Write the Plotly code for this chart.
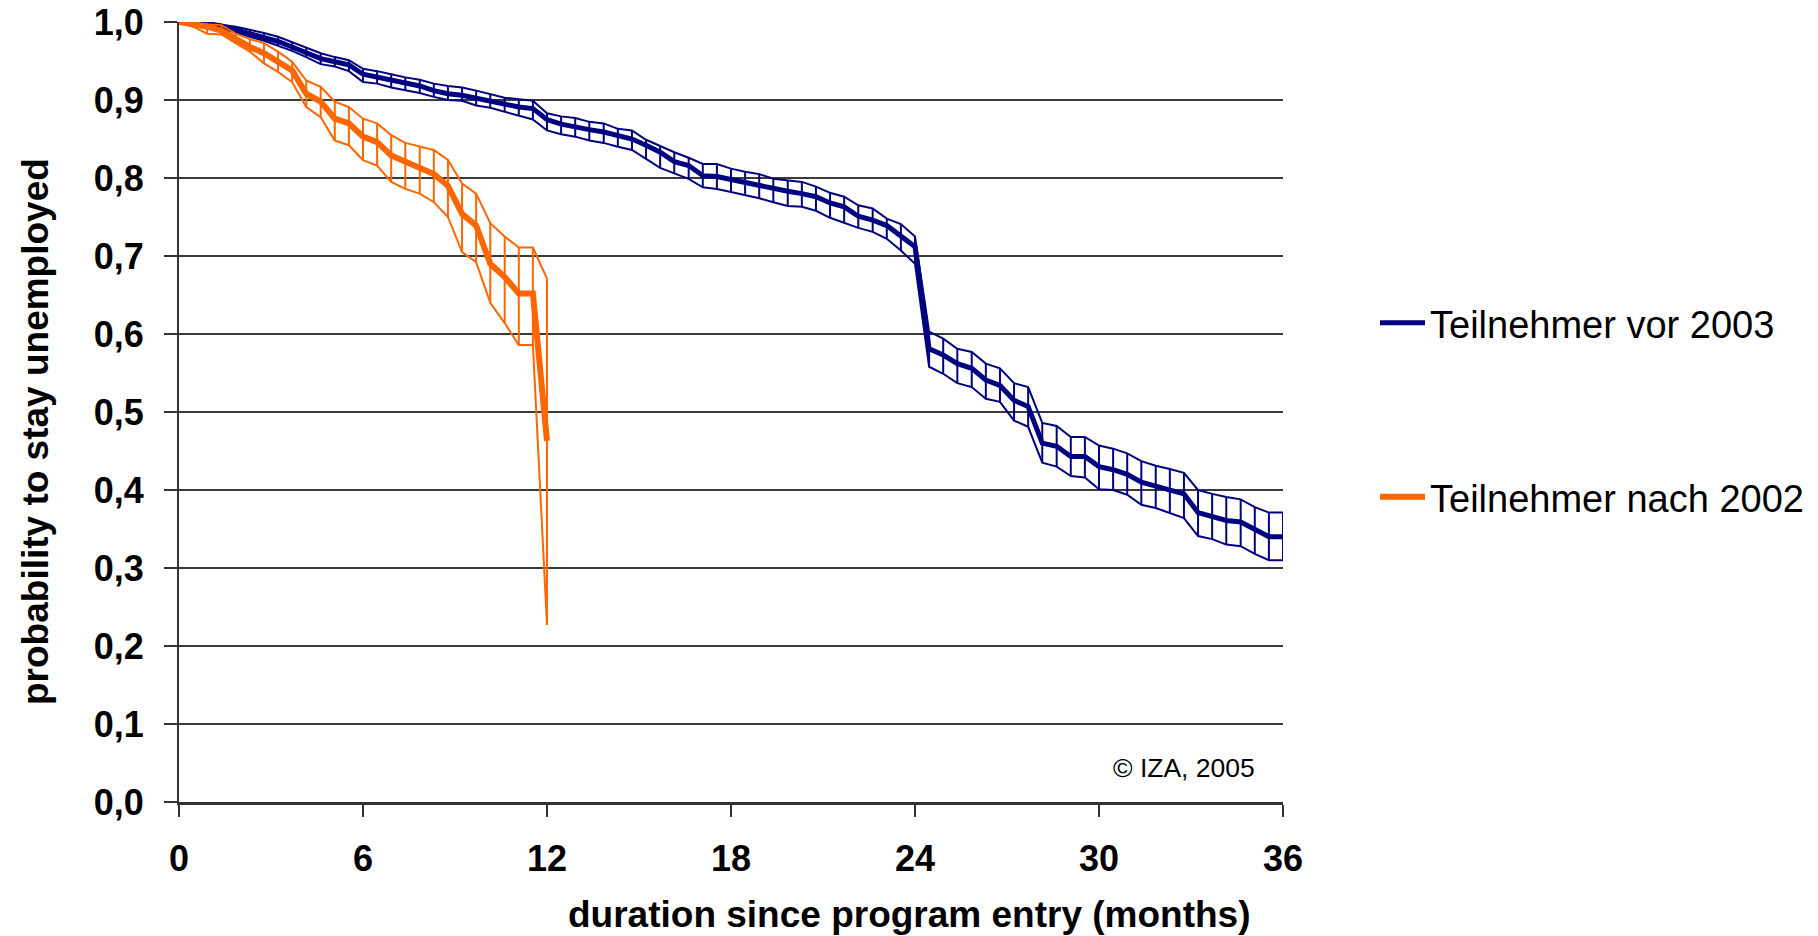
import plotly.graph_objects as go

# ---------------- data ----------------
months = [0.00, 0.46, 0.92, 1.38, 1.85, 2.31, 2.77, 3.23, 3.69, 4.15,
          4.62, 5.08, 5.54, 6.00, 6.46, 6.92, 7.38, 7.85, 8.31, 8.77,
          9.23, 9.69, 10.15, 10.62, 11.08, 11.54, 12.00, 12.46, 12.92, 13.38,
          13.85, 14.31, 14.77, 15.23, 15.69, 16.15, 16.62, 17.08, 17.54, 18.00,
          18.46, 18.92, 19.38, 19.85, 20.31, 20.77, 21.23, 21.69, 22.15, 22.62,
          23.08, 23.54, 24.00, 24.46, 24.92, 25.38, 25.85, 26.31, 26.77, 27.23,
          27.69, 28.15, 28.62, 29.08, 29.54, 30.00, 30.46, 30.92, 31.38, 31.85,
          32.31, 32.77, 33.23, 33.69, 34.15, 34.62, 35.08, 35.54, 36.00]

vor_mid = [1.000, 0.999, 0.998, 0.995, 0.990, 0.985, 0.981, 0.975, 0.968, 0.961,
           0.953, 0.949, 0.945, 0.933, 0.929, 0.925, 0.921, 0.918, 0.912, 0.908,
           0.906, 0.902, 0.898, 0.895, 0.891, 0.889, 0.875, 0.869, 0.865, 0.862,
           0.859, 0.855, 0.850, 0.842, 0.833, 0.821, 0.816, 0.803, 0.802, 0.798,
           0.794, 0.791, 0.786, 0.783, 0.780, 0.776, 0.768, 0.763, 0.751, 0.746,
           0.739, 0.726, 0.712, 0.581, 0.573, 0.562, 0.556, 0.541, 0.534, 0.515,
           0.507, 0.460, 0.456, 0.443, 0.443, 0.430, 0.426, 0.420, 0.410, 0.405,
           0.400, 0.395, 0.371, 0.366, 0.361, 0.359, 0.349, 0.340, 0.340]

vor_hi = [1.000, 1.000, 0.999, 0.997, 0.994, 0.990, 0.986, 0.981, 0.974, 0.967,
          0.960, 0.955, 0.951, 0.940, 0.937, 0.933, 0.929, 0.926, 0.921, 0.918,
          0.916, 0.912, 0.908, 0.903, 0.901, 0.899, 0.883, 0.879, 0.877, 0.872,
          0.870, 0.863, 0.861, 0.849, 0.841, 0.833, 0.826, 0.818, 0.818, 0.812,
          0.808, 0.805, 0.799, 0.797, 0.795, 0.789, 0.781, 0.776, 0.765, 0.761,
          0.748, 0.741, 0.725, 0.603, 0.594, 0.581, 0.577, 0.562, 0.556, 0.537,
          0.532, 0.486, 0.482, 0.468, 0.468, 0.457, 0.453, 0.447, 0.437, 0.431,
          0.427, 0.422, 0.400, 0.395, 0.391, 0.388, 0.378, 0.371, 0.371]

vor_lo = [1.000, 0.998, 0.996, 0.992, 0.986, 0.981, 0.976, 0.970, 0.963, 0.955,
          0.946, 0.943, 0.937, 0.923, 0.921, 0.916, 0.913, 0.909, 0.904, 0.900,
          0.899, 0.893, 0.890, 0.885, 0.880, 0.875, 0.861, 0.856, 0.853, 0.848,
          0.845, 0.840, 0.836, 0.824, 0.813, 0.806, 0.799, 0.788, 0.786, 0.782,
          0.778, 0.774, 0.769, 0.764, 0.763, 0.758, 0.749, 0.742, 0.736, 0.731,
          0.722, 0.707, 0.690, 0.558, 0.549, 0.537, 0.532, 0.517, 0.513, 0.489,
          0.481, 0.435, 0.430, 0.418, 0.416, 0.401, 0.400, 0.394, 0.381, 0.377,
          0.371, 0.364, 0.341, 0.337, 0.330, 0.328, 0.318, 0.310, 0.310]

nach_months = months[:27]

nach_mid = [1.000, 0.997, 0.994, 0.989, 0.978, 0.968, 0.960, 0.949, 0.938, 0.908,
            0.898, 0.876, 0.870, 0.853, 0.846, 0.829, 0.821, 0.814, 0.805, 0.790,
            0.754, 0.739, 0.690, 0.673, 0.652, 0.652, 0.463]

nach_hi = [1.000, 0.999, 0.997, 0.996, 0.985, 0.978, 0.973, 0.962, 0.949, 0.925,
           0.917, 0.898, 0.891, 0.876, 0.870, 0.855, 0.845, 0.840, 0.836, 0.823,
           0.793, 0.780, 0.742, 0.725, 0.711, 0.711, 0.671]

nach_lo = [1.000, 0.994, 0.985, 0.984, 0.973, 0.962, 0.947, 0.936, 0.923, 0.891,
           0.878, 0.848, 0.842, 0.823, 0.816, 0.795, 0.786, 0.780, 0.769, 0.750,
           0.705, 0.692, 0.640, 0.614, 0.586, 0.586, 0.227]

x_tick_vals = [0, 6, 12, 18, 24, 30, 36]
x_tick_text = ["0", "6", "12", "18", "24", "30", "36"]
y_tick_vals = [0.0, 0.1, 0.2, 0.3, 0.4, 0.5, 0.6, 0.7, 0.8, 0.9, 1.0]
y_tick_text = ["0,0", "0,1", "0,2", "0,3", "0,4", "0,5", "0,6", "0,7", "0,8", "0,9", "1,0"]

series_names = ["Teilnehmer vor 2003", "Teilnehmer nach 2002"]

BLUE = "#000080"
ORANGE = "#FF6600"
GRID = "#3a3a3a"
FONT = "Liberation Sans"


def band_xy(x, lo, hi):
    bx, by = [], []
    bx += list(x) + [None]
    by += list(hi) + [None]
    bx += list(x) + [None]
    by += list(lo) + [None]
    for xi, l, h in zip(x, lo, hi):
        bx += [xi, xi, None]
        by += [l, h, None]
    return bx, by


fig = go.Figure()

bx, by = band_xy(months, vor_lo, vor_hi)
fig.add_trace(go.Scatter(x=bx, y=by, mode="lines", line=dict(color=BLUE, width=2),
                         showlegend=False, hoverinfo="skip", connectgaps=False))
fig.add_trace(go.Scatter(x=months, y=vor_mid, mode="lines", name=series_names[0],
                         line=dict(color=BLUE, width=5), legend="legend"))

bx, by = band_xy(nach_months, nach_lo, nach_hi)
fig.add_trace(go.Scatter(x=bx, y=by, mode="lines", line=dict(color=ORANGE, width=2),
                         showlegend=False, hoverinfo="skip", connectgaps=False))
fig.add_trace(go.Scatter(x=nach_months, y=nach_mid, mode="lines", name=series_names[1],
                         line=dict(color=ORANGE, width=6), legend="legend2"))

L, R, T, B = 179, 535, 22, 134
W, H = 1818, 936
pw, ph = W - L - R, H - T - B


def px_x(p):
    return (p - L) / pw


def px_y(p):
    return (H - B - p) / ph


legend_font = dict(family=FONT, size=38, color="black")

fig.update_layout(
    width=W, height=H,
    margin=dict(l=L, r=R, t=T, b=B, pad=0, autoexpand=False),
    paper_bgcolor="white", plot_bgcolor="white",
    font=dict(family=FONT, color="black"),
    xaxis=dict(range=[0, 36], tickmode="array", tickvals=x_tick_vals, ticktext=x_tick_text,
               ticks="outside", ticklen=12, tickwidth=2, tickcolor="#333333",
               showline=True, linewidth=3, linecolor="#333333",
               showgrid=False, zeroline=False, automargin=False,
               tickfont=dict(family=FONT, size=36, weight="bold", color="black"),
               ticklabelstandoff=11),
    yaxis=dict(range=[0, 1], tickmode="array", tickvals=y_tick_vals, ticktext=y_tick_text,
               ticks="outside", ticklen=13, tickwidth=2, tickcolor="#333333",
               showline=True, linewidth=2, linecolor="#333333",
               showgrid=True, gridcolor=GRID, gridwidth=2, zeroline=False, automargin=False,
               tickfont=dict(family=FONT, size=36, weight="bold", color="black"),
               ticklabelstandoff=13),
    legend=dict(x=px_x(1375), y=px_y(323), xanchor="left", yanchor="middle",
                font=legend_font, bgcolor="rgba(0,0,0,0)", itemwidth=45),
    legend2=dict(x=px_x(1375), y=px_y(497), xanchor="left", yanchor="middle",
                 font=legend_font, bgcolor="rgba(0,0,0,0)", itemwidth=45),
    annotations=[
        dict(text="duration since program entry (months)", xref="paper", yref="paper",
             x=px_x(909), y=px_y(914), xanchor="center", yanchor="middle", showarrow=False,
             font=dict(family=FONT, size=37, weight="bold", color="black")),
        dict(text="probability to stay unemployed", xref="paper", yref="paper",
             x=px_x(35), y=px_y(432), xanchor="center", yanchor="middle", showarrow=False,
             textangle=-90,
             font=dict(family=FONT, size=37, weight="bold", color="black")),
        dict(text="© IZA, 2005", xref="paper", yref="paper",
             x=px_x(1184), y=px_y(768), xanchor="center", yanchor="middle", showarrow=False,
             font=dict(family=FONT, size=26.5, color="black")),
    ],
)

fig.write_html(
    "out.html",
    config={"displayModeBar": False},
    post_script="document.body.style.margin='0';document.body.style.padding='0';"
                "document.body.style.overflow='hidden';",
)
